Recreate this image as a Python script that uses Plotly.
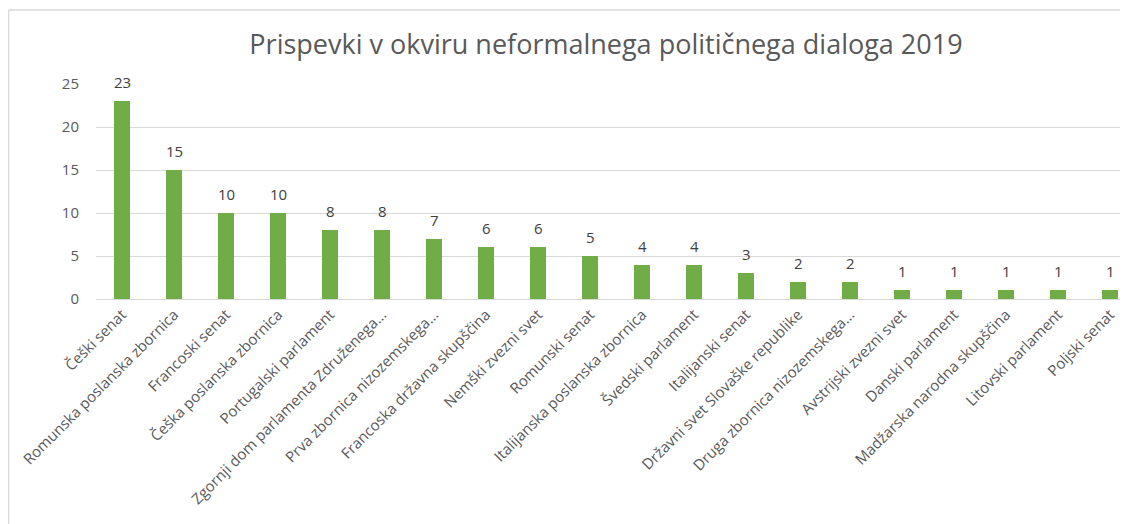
import plotly.graph_objects as go

categories = [
    "Češki senat",
    "Romunska poslanska zbornica",
    "Francoski senat",
    "Češka poslanska zbornica",
    "Portugalski parlament",
    "Zgornji dom parlamenta Združenega...",
    "Prva zbornica nizozemskega...",
    "Francoska državna skupščina",
    "Nemški zvezni svet",
    "Romunski senat",
    "Italijanska poslanska zbornica",
    "Švedski parlament",
    "Italijanski senat",
    "Državni svet Slovaške republike",
    "Druga zbornica nizozemskega...",
    "Avstrijski zvezni svet",
    "Danski parlament",
    "Madžarska narodna skupščina",
    "Litovski parlament",
    "Poljski senat",
]
values = [23, 15, 10, 10, 8, 8, 7, 6, 6, 5, 4, 4, 3, 2, 2, 1, 1, 1, 1, 1]
y_ticks = [0, 5, 10, 15, 20, 25]
title = "Prispevki v okviru neformalnega političnega dialoga 2019"

FONT = "Open Sans"
GREY = "#595959"

W, H = 1120, 516
L, R, T, B = 88, 7, 76, 225
PW, PH = W - L - R, H - T - B

xs = list(range(len(categories)))

fig = go.Figure(
    go.Bar(
        x=xs,
        y=values,
        marker=dict(color="#70AD47", line=dict(width=0)),
        width=0.31,
        cliponaxis=False,
    )
)

for xi, v in zip(xs, values):
    fig.add_annotation(
        x=xi, y=v, text=str(v), showarrow=False,
        xref="x", yref="y", yanchor="middle", yshift=19,
        font=dict(family=FONT, size=15, color="#404040"),
    )

fig.update_layout(
    width=W,
    height=H,
    paper_bgcolor="white",
    plot_bgcolor="white",
    margin=dict(l=L, r=R, t=T, b=B, autoexpand=False),
    showlegend=False,
    title=dict(
        text=title,
        font=dict(family=FONT, size=27, color=GREY),
        x=598 / W,
        xanchor="center",
        xref="container",
        y=1 - 37 / H,
        yanchor="middle",
    ),
    bargap=0,
)

fig.update_xaxes(
    tickmode="array",
    tickvals=xs,
    ticktext=categories,
    tickangle=-45,
    tickfont=dict(family=FONT, size=15, color=GREY),
    range=[-0.5, 19.21],
    showgrid=False,
    showline=True,
    linecolor="#D9D9D9",
    linewidth=1,
    ticks="",
    zeroline=False,
    automargin=False,
)
fig.update_yaxes(
    tickvals=y_ticks,
    range=[0, 25],
    tickfont=dict(family=FONT, size=15, color=GREY),
    showgrid=True,
    gridcolor="#D9D9D9",
    gridwidth=1,
    zeroline=False,
    showline=False,
    ticks="",
    ticklabelstandoff=16,
    automargin=False,
)

# chart border (left and top edges visible)
bx0 = (0.5 - L) / PW
bx1 = (W - L) / PW
by0 = (T + PH - 2) / PH
by1 = (T + PH - H) / PH
fig.add_shape(type="line", xref="paper", yref="paper",
              x0=bx0, x1=bx1, y0=by0, y1=by0,
              line=dict(color="#D9D9D9", width=1.5))
fig.add_shape(type="line", xref="paper", yref="paper",
              x0=bx0, x1=bx0, y0=by0, y1=by1,
              line=dict(color="#D9D9D9", width=1.5))

fig.write_html("out.html")
